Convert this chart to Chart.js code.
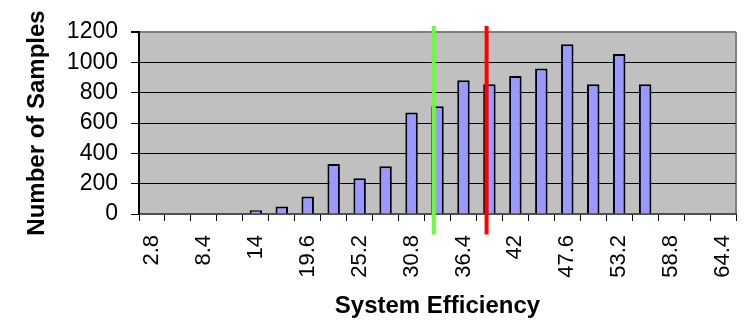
<!DOCTYPE html>
<html>
<head>
<meta charset="utf-8">
<script src="https://cdn.jsdelivr.net/npm/chart.js@4/dist/chart.umd.min.js"></script>
<style>
  html, body { margin: 0; padding: 0; background: #ffffff; }
  #wrap { width: 744px; height: 323px; position: relative; }
</style>
</head>
<body>
<div id="wrap"><canvas id="chart"></canvas></div>
<script>
// Efficiency bins (category centres)
const efficiencyBins = ['2.8','5.6','8.4','11.2','14','16.8','19.6','22.4','25.2','28','30.8','33.6',
  '36.4','39.2','42','44.8','47.6','50.4','53.2','56','58.8','61.6','64.4'];

// Sample counts per bin
const sampleCounts = [0, 0, 0, 0, 25, 50, 115, 330, 235, 315, 670, 710,
  882, 856, 910, 960, 1120, 856, 1055, 856, 0, 0, 0];

// Reference markers on the efficiency axis
const markerEfficiency = [33.2, 38.9];
const markerColors = ['#66FF33', '#FF0000'];
// Vertical extent of the markers, in sample-count units
const markerSpan = [-135, 1240];

const binStep = 2.8;

const plotBackground = {
  id: 'plotBackground',
  beforeDraw(chart) {
    const { ctx, chartArea: a } = chart;
    ctx.save();
    ctx.fillStyle = '#C0C0C0';
    ctx.fillRect(a.left, a.top, a.right - a.left, a.bottom - a.top);
    ctx.strokeStyle = '#808080';
    ctx.lineWidth = 2;
    ctx.beginPath();
    ctx.moveTo(a.right, a.top);
    ctx.lineTo(a.right, a.bottom);
    ctx.stroke();
    ctx.restore();
  }
};

const markerLines = {
  id: 'markerLines',
  afterDatasetsDraw(chart) {
    const { ctx, scales: { x, y } } = chart;
    ctx.save();
    markerEfficiency.forEach((v, i) => {
      const idx = v / binStep - 1;
      const px = x.getPixelForValue(idx);
      ctx.strokeStyle = markerColors[i];
      ctx.lineWidth = 4;
      ctx.beginPath();
      ctx.moveTo(px, y.getPixelForValue(markerSpan[1]));
      ctx.lineTo(px, y.getPixelForValue(markerSpan[0]));
      ctx.stroke();
    });
    ctx.restore();
  }
};

new Chart(document.getElementById('chart'), {
  type: 'bar',
  data: {
    labels: efficiencyBins,
    datasets: [{
      data: sampleCounts,
      backgroundColor: '#9999FF',
      borderColor: '#000000',
      borderWidth: 2,
      categoryPercentage: 1,
      barPercentage: 0.48
    }]
  },
  options: {
    responsive: true,
    maintainAspectRatio: false,
    animation: false,
    layout: { padding: { top: 32, right: 8, left: 0, bottom: 0 } },
    plugins: {
      legend: { display: false },
      tooltip: { enabled: false }
    },
    scales: {
      x: {
        offset: true,
        grid: {
          offset: true,
          drawOnChartArea: false,
          drawTicks: true,
          tickLength: 7,
          tickColor: '#000000',
          tickWidth: 1
        },
        border: { color: '#505050', width: 2 },
        ticks: {
          autoSkip: false,
          minRotation: 90,
          maxRotation: 90,
          padding: 14,
          color: '#000000',
          font: { family: 'Liberation Sans, Arial, sans-serif', size: 22 },
          callback: (v, i) => (i % 2 === 0 ? efficiencyBins[i] : '')
        },
        title: {
          display: true,
          text: 'System Efficiency',
          color: '#000000',
          font: { family: 'Liberation Sans, Arial, sans-serif', size: 24, weight: 'bold' },
          padding: { top: 0, bottom: 2 }
        },
        afterFit(scale) {
          scale.height = 109;
          scale.paddingLeft = 0;
          scale.paddingRight = 0;
        }
      },
      y: {
        min: 0,
        max: 1200,
        ticks: {
          stepSize: 200,
          autoSkip: false,
          padding: 13,
          color: '#000000',
          font: { family: 'Liberation Sans, Arial, sans-serif', size: 23 },
          callback: (v) => String(v)
        },
        grid: {
          color: (c) => (c.tick && c.tick.value === 1200 ? '#808080' : '#000000'),
          lineWidth: (c) => (c.tick && c.tick.value === 1200 ? 2 : 1),
          drawTicks: true,
          tickLength: 8,
          tickColor: '#000000'
        },
        border: { color: '#000000', width: 2 },
        title: {
          display: true,
          text: 'Number of Samples',
          color: '#000000',
          font: { family: 'Liberation Sans, Arial, sans-serif', size: 24, weight: 'bold' },
          padding: { top: 23, bottom: 0 }
        },
        afterFit(scale) { scale.width = 139; }
      }
    }
  },
  plugins: [plotBackground, markerLines]
});
</script>
</body>
</html>
